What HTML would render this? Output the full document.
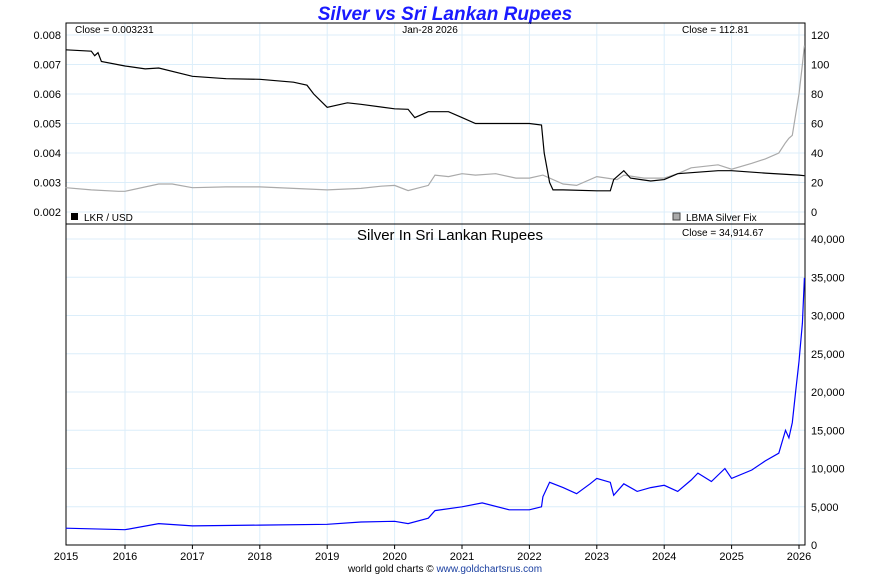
<!DOCTYPE html>
<html><head><meta charset="utf-8"><style>
body{margin:0;background:#fff;width:890px;height:575px;overflow:hidden}
svg{font-family:"Liberation Sans",sans-serif}
</style></head><body>
<svg id="c" width="890" height="575">
<text x="445" y="20" text-anchor="middle" font-size="19" font-weight="bold" font-style="italic" fill="#1a1aff">Silver vs Sri Lankan Rupees</text>
<g id="grid"></g>
<rect x="66" y="23" width="739" height="522" fill="none" stroke="#000"/>
<line x1="66" y1="224" x2="805" y2="224" stroke="#000"/>
<g id="axes" font-size="11" fill="#000"></g>
<g id="series"></g>
<text x="75" y="33" font-size="10">Close = 0.003231</text>
<text x="430" y="33" text-anchor="middle" font-size="10">Jan-28  2026</text>
<text x="682" y="33" font-size="10">Close = 112.81</text>
<rect x="71" y="213" width="7" height="7" fill="#000"/>
<text x="84" y="221" font-size="10">LKR / USD</text>
<rect x="673" y="213" width="7" height="7" fill="#aaa" stroke="#444"/>
<text x="686" y="221" font-size="10">LBMA Silver Fix</text>
<text x="450" y="240" text-anchor="middle" font-size="15">Silver In Sri Lankan Rupees</text>
<text x="682" y="236" font-size="10">Close = 34,914.67</text>
<text x="445" y="572" text-anchor="middle" font-size="10" fill="#000">world gold charts © <tspan fill="#1a3fa0">www.goldchartsrus.com</tspan></text>
</svg>
<script>
const years=[2016,2017,2018,2019,2020,2021,2022,2023,2024,2025,2026];
const lkrTicks=[0.002,0.003,0.004,0.005,0.006,0.007,0.008];
const silverTicks=[0,20,40,60,80,100,120];
const inrTicks=[0,5000,10000,15000,20000,25000,30000,35000,40000];
const lkrT=[2015.12,2015.5,2015.55,2015.6,2015.65,2016,2016.3,2016.5,2017,2017.5,2018,2018.5,2018.7,2018.8,2019,2019.3,2019.5,2020,2020.2,2020.3,2020.5,2020.8,2021,2021.2,2021.5,2022,2022.18,2022.22,2022.3,2022.35,2022.5,2023,2023.2,2023.25,2023.4,2023.5,2023.8,2024,2024.2,2024.5,2024.8,2025,2025.5,2026,2026.08];
const lkrV=[0.0075,0.00745,0.0073,0.0074,0.0071,0.00695,0.00685,0.00688,0.0066,0.00652,0.0065,0.0064,0.0063,0.006,0.00555,0.0057,0.00565,0.0055,0.00548,0.0052,0.0054,0.0054,0.0052,0.005,0.005,0.005,0.00495,0.004,0.003,0.00275,0.00275,0.00272,0.00272,0.0031,0.0034,0.00315,0.00305,0.0031,0.0033,0.00335,0.0034,0.0034,0.00332,0.00325,0.003231];
const agT=[2015.12,2015.5,2015.9,2016,2016.5,2016.7,2017,2017.5,2018,2018.5,2019,2019.5,2019.8,2020,2020.2,2020.5,2020.6,2020.8,2021,2021.2,2021.5,2021.8,2022,2022.2,2022.5,2022.7,2023,2023.3,2023.4,2023.7,2024,2024.2,2024.4,2024.8,2025,2025.3,2025.5,2025.7,2025.8,2025.85,2025.9,2026,2026.05,2026.08];
const agV=[16.5,15,14,14,19,19,16.5,17,17,16,15,16,17.5,18,14.5,18,25,24,26,25,26,23,23,25,19,18,24,22,25,23,23,26,30,32,29,33,36,40,47,50,52,80,100,112.8];
const rsT=[2015.12,2016,2016.5,2017,2018,2019,2019.5,2020,2020.2,2020.5,2020.6,2021,2021.3,2021.7,2022,2022.18,2022.2,2022.3,2022.5,2022.7,2022.9,2023,2023.2,2023.25,2023.4,2023.6,2023.8,2024,2024.2,2024.4,2024.5,2024.7,2024.9,2025,2025.3,2025.5,2025.7,2025.8,2025.85,2025.9,2025.95,2026,2026.05,2026.08];
const rsV=[2200,2000,2800,2500,2600,2700,3000,3100,2800,3500,4500,5000,5500,4600,4600,5000,6300,8200,7500,6700,8000,8700,8200,6500,8000,7000,7500,7800,7000,8500,9400,8300,10000,8700,9800,11000,12000,15000,14000,16000,20000,24000,29000,34915];
const X=y=>125+(y-2016)*67.4;
const yL=v=>212-(v-0.002)/0.001*29.5;
const yS=v=>212-v/20*29.5;
const yR=v=>545-v/40000*306;
const NS='http://www.w3.org/2000/svg';
function mk(t,a,p){const e=document.createElementNS(NS,t);for(const k in a)e.setAttribute(k,a[k]);p.appendChild(e);return e;}
const grid=document.getElementById('grid'),axes=document.getElementById('axes'),ser=document.getElementById('series');
const t0=mk('text',{x:66,y:560,'text-anchor':'middle'},axes);t0.textContent='2015';


years.forEach(y=>{const x=X(y);
 const g=mk('line',{x1:x,y1:23,x2:x,y2:545,stroke:'#dceefa'},grid);
 
 
 const t=mk('text',{x:x,y:560,'text-anchor':'middle'},axes);t.textContent=y;
 
 
 const k=mk('line',{x1:x,y1:545,x2:x,y2:549,stroke:'#000'},axes);
 
 });
lkrTicks.forEach(v=>{const y=yL(v);
 const g=mk('line',{x1:66,y1:y,x2:805,y2:y,stroke:'#dceefa'},grid);
 
 
 const t=mk('text',{x:61,y:y+4,'text-anchor':'end'},axes);t.textContent=v.toFixed(3);
 
 });
silverTicks.forEach(v=>{const t=mk('text',{x:811,y:yS(v)+4},axes);t.textContent=v;
 
 });
inrTicks.forEach(v=>{const y=yR(v);
 const g=mk('line',{x1:66,y1:y,x2:805,y2:y,stroke:'#dceefa'},grid);
 
 
 const t=mk('text',{x:811,y:y+4},axes);t.textContent=v.toLocaleString('en-US');
 
 });
function line(ts,vs,f,col,name){const d=ts.map((t,i)=>(i?'L':'M')+X(t).toFixed(1)+','+f(vs[i]).toFixed(1)).join('');
 const p=mk('path',{d:d,fill:'none',stroke:col,'stroke-width':1.2},ser);
 
 }
line(agT,agV,yS,'#aaa','silver-usd-line');
line(lkrT,lkrV,yL,'#000','lkr-usd-line');
line(rsT,rsV,yR,'#0000ff','silver-lkr-line');
</script>
</body></html>
